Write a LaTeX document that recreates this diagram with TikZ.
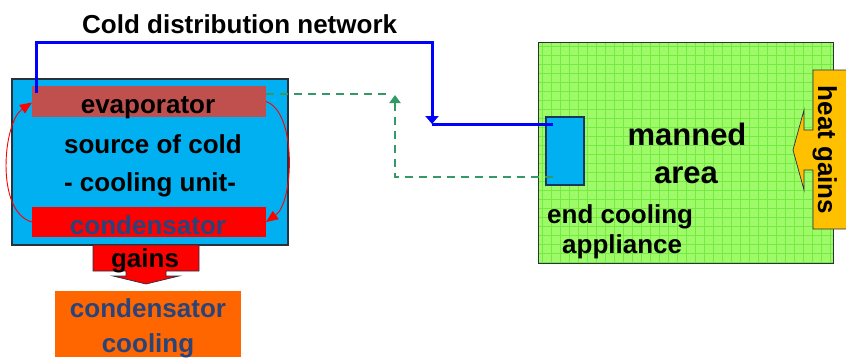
\documentclass[tikz,border=0pt]{standalone}
\usepackage{fontspec}
\setmainfont{Liberation Sans}
\usetikzlibrary{arrows.meta}
\definecolor{cyanb}{RGB}{0,176,240}
\definecolor{evapc}{RGB}{192,80,77}
\definecolor{condtxt}{RGB}{41,68,122}
\definecolor{orangec}{RGB}{255,102,0}
\definecolor{heatc}{RGB}{255,192,0}
\definecolor{greend}{RGB}{51,153,102}
\definecolor{areafill}{RGB}{158,250,105}
\definecolor{areagrid}{RGB}{115,235,65}
\definecolor{edgec}{RGB}{40,50,60}
\definecolor{appedge}{RGB}{23,55,94}
\definecolor{netblue}{RGB}{0,0,255}
\begin{document}
\begin{tikzpicture}[x=1pt,y=-1pt,
  txt/.style={font=\fontsize{26}{28}\selectfont\bfseries, inner sep=0pt, anchor=base},
  bigtxt/.style={font=\fontsize{31}{34}\selectfont\bfseries, inner sep=0pt, anchor=base},
  blk/.style={inner sep=0pt, outer sep=0pt},
  blueline/.style={draw=netblue, line width=3pt},
  greenline/.style={draw=greend, line width=2.8pt, dash pattern=on 8pt off 6pt},
  redarc/.style={draw=red, line width=0.9pt, -{Triangle[width=10pt,length=12pt]}}
]
\useasboundingbox (0,0) rectangle (846,360);
% manned area
\node[blk, fill=areafill, minimum width=295pt, minimum height=221pt] (area) at (685.5,152.5) {};
\begin{scope}
  \clip (538,42) rectangle (833,263);
  \foreach \gx in {542,551,...,833} \draw[areagrid, line width=0.5pt] (\gx,42) -- (\gx,263);
  \foreach \gy in {46,55,...,263} \draw[areagrid, line width=0.5pt] (538,\gy) -- (833,\gy);
\end{scope}
\draw[edgec, line width=1pt] (area.north west) rectangle (area.south east);
% source of cold
\node[blk, fill=cyanb, draw=edgec, line width=1.3pt, minimum width=276pt, minimum height=166pt] (src) at (150,162) {};
\node[blk, fill=evapc, minimum width=234pt, minimum height=31pt] (evap) at (149,101.5) {};
\node[blk, fill=red, minimum width=234pt, minimum height=30pt] (cond) at (149,222) {};
\node[txt] (tevap) at (148,113) {evaporator};
\node[txt] (tsrc1) at (153,153) {source of cold};
\node[txt] (tsrc2) at (150,191) {- cooling unit-};
\node[txt, text=condtxt] (tcond) at (148,234) {condensator};
% red cycle arrows
\draw[redarc] (cond.west) .. controls (-5,212) and (3,122) .. ([yshift=-1pt]evap.west);
\draw[redarc] (evap.east) .. controls (297,112) and (294,202) .. (cond.east);
% gains arrow
\draw[fill=red, draw=edgec, line width=0.7pt] (93,245) -- (199,245) -- (199,271) -- (166,271) -- (166,276) -- (179,276) -- (146,284) -- (113,276) -- (126,276) -- (126,271) -- (93,271) -- cycle;
\node[txt] (tgains) at (145,267) {gains};
% condensator cooling
\node[blk, fill=orangec, minimum width=186pt, minimum height=66pt] (ccool) at (148,324) {};
\node[txt, text=condtxt] (tcc1) at (148,317) {condensator};
\node[txt, text=condtxt] (tcc2) at (148,352) {cooling};
% title
\node[txt, anchor=base west] (title) at (82,33) {Cold distribution network};
% end cooling appliance
\node[blk, fill=cyanb, draw=appedge, line width=1.3pt, minimum width=38pt, minimum height=68pt] (app) at (565,151) {};
\node[bigtxt] (tman1) at (687,145) {manned};
\node[bigtxt] (tman2) at (686,183) {area};
\node[txt, anchor=base west] (tend1) at (547,223) {end cooling};
\node[txt, anchor=base west] (tend2) at (562,253) {appliance};
% heat gains callout
\draw[fill=heatc, draw=edgec, line width=0.7pt] (850,70) -- (813,70) -- (813,130) -- (804,130) -- (804,110) -- (793,150) -- (804,190) -- (804,170) -- (813,170) -- (813,229) -- (850,229);
\node[txt, rotate=-90] (theat) at (818,150) {heat gains};
% cold distribution network (blue)
\coordinate (bstart) at (36,93);
\coordinate (btop1) at (36,42);
\coordinate (btop2) at (432,42);
\coordinate (junc) at (432,124);
\coordinate (bend) at (553,124);
\draw[blueline, -{Triangle[width=13pt,length=8pt]}] (bstart) -- (btop1) -- (btop2) -- (junc);
\draw[blueline] (junc) -- (bend);
% return (green dashed)
\coordinate (gstart) at (266,94);
\coordinate (gcorner) at (391,94);
\coordinate (gup) at (395,95);
\coordinate (gbot) at (395,177);
\coordinate (gend) at (553,177);
\draw[greenline] (gstart) -- (gcorner);
\draw[greenline, -{Triangle[width=11pt,length=8pt]}] (gend) -- (gbot) -- (gup);
\end{tikzpicture}
\end{document}
